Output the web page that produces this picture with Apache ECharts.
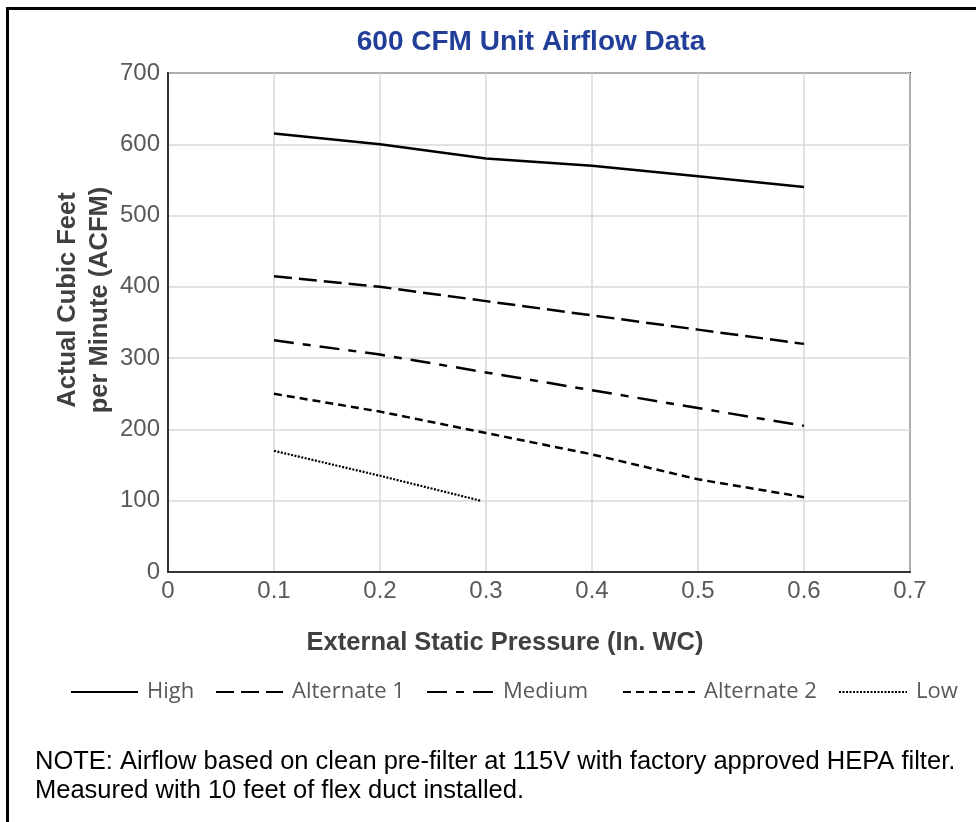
<!DOCTYPE html>
<html>
<head>
<meta charset="utf-8">
<script src="https://cdn.jsdelivr.net/npm/echarts@6/dist/echarts.min.js"></script>
<style>
  html, body { margin: 0; padding: 0; background: #fff; }
  #chart { width: 976px; height: 822px; }
</style>
</head>
<body>
<div id="chart"></div>
<script>
// ---- data ----
const pressures = [0.1, 0.2, 0.3, 0.4, 0.5, 0.6];
const lowPressures = [0.1, 0.2, 0.295];
const high = [615, 600, 580, 570, 555, 540];
const alternate1 = [415, 400, 380, 360, 340, 320];
const medium = [325, 305, 280, 255, 230, 205];
const alternate2 = [250, 225, 195, 165, 130, 105];
const low = [170, 135, 100];
const seriesNames = ['High', 'Alternate 1', 'Medium', 'Alternate 2', 'Low'];
const xTicks = [0, 0.1, 0.2, 0.3, 0.4, 0.5, 0.6, 0.7];
const yTicks = [0, 100, 200, 300, 400, 500, 600, 700];

const pairs = (xs, ys) => xs.map((x, i) => [x, ys[i]]);

const chart = echarts.init(document.getElementById('chart'));
const arial = '"Liberation Sans", Arial, sans-serif';
const legendFont = '"Open Sans", sans-serif';

const lineStyles = [
  { type: 'solid', width: 2.5 },
  { type: [18, 7], width: 2.5 },
  { type: [20, 9, 8, 9], width: 2.5 },
  { type: [8, 5], width: 2.5 },
  { type: [2, 1.5], width: 2.2 }
];
const dataSets = [
  pairs(pressures, high),
  pairs(pressures, alternate1),
  pairs(pressures, medium),
  pairs(pressures, alternate2),
  pairs(lowPressures, low)
];
const legendLefts = [70, 215, 426, 622, 838];
const legendWidths = [67, 67, 67, 72, 68];

chart.setOption({
  animation: false,
  backgroundColor: '#fff',
  legend: seriesNames.map((n, i) => ({
    data: [n],
    left: legendLefts[i], top: 681, padding: 0,
    itemWidth: legendWidths[i], itemHeight: 14,
    itemStyle: { opacity: 0 },
    textStyle: { fontFamily: legendFont, fontSize: 22, color: '#595959', padding: [0, 0, 0, 4] }
  })),
  grid: {
    left: 168, right: 66, top: 73, bottom: 250,
    show: true, borderColor: '#333', borderWidth: 2, backgroundColor: 'transparent'
  },
  xAxis: {
    type: 'value', min: 0, max: 0.7, interval: 0.1,
    axisLine: { show: true, lineStyle: { color: '#333', width: 2 } },
    axisTick: { show: false },
    splitLine: { show: true, lineStyle: { color: '#d9d9d9', width: 1.5 } },
    axisLabel: {
      margin: 7, color: '#595959', fontFamily: arial, fontSize: 24,
      formatter: v => String(Math.round(v * 10) / 10)
    }
  },
  yAxis: {
    type: 'value', min: 0, max: 700, interval: 100,
    axisLine: { show: true, lineStyle: { color: '#333', width: 2 } },
    axisTick: { show: false },
    splitLine: { show: true, lineStyle: { color: '#d9d9d9', width: 1.5 } },
    axisLabel: { margin: 8, color: '#595959', fontFamily: arial, fontSize: 24 }
  },
  graphic: [
    { type: 'rect', shape: { x: 6, y: 7, width: 1000, height: 3 }, style: { fill: '#000' } },
    { type: 'rect', shape: { x: 6, y: 7, width: 3, height: 830 }, style: { fill: '#000' } },
    {
      type: 'text', x: 531, y: 42,
      style: { text: '600 CFM Unit Airflow Data', fontFamily: arial, fontWeight: 'bold',
               fontSize: 28, fill: '#213f99', textAlign: 'center', textVerticalAlign: 'middle' }
    },
    {
      type: 'text', x: 68, y: 300, rotation: Math.PI / 2,
      style: { text: 'Actual Cubic Feet', fontFamily: arial, fontWeight: 'bold',
               fontSize: 25.5, fill: '#404040', textAlign: 'center', textVerticalAlign: 'middle' }
    },
    {
      type: 'text', x: 100, y: 300, rotation: Math.PI / 2,
      style: { text: 'per Minute (ACFM)', fontFamily: arial, fontWeight: 'bold',
               fontSize: 25.5, fill: '#404040', textAlign: 'center', textVerticalAlign: 'middle' }
    },
    {
      type: 'text', x: 505, y: 643,
      style: { text: 'External Static Pressure (In. WC)', fontFamily: arial, fontWeight: 'bold',
               fontSize: 25.5, fill: '#404040', textAlign: 'center', textVerticalAlign: 'middle' }
    },
    {
      type: 'text', x: 35, y: 747,
      style: { text: 'NOTE: Airflow based on clean pre-filter at 115V with factory approved HEPA filter.\nMeasured with 10 feet of flex duct installed.',
               fontFamily: arial, fontSize: 25.5, lineHeight: 29, fill: '#000', textAlign: 'left', textVerticalAlign: 'top' }
    }
  ],
  series: seriesNames.map((n, i) => ({
    name: n, type: 'line', data: dataSets[i],
    symbol: 'none', showSymbol: false,
    lineStyle: Object.assign({ color: '#000' }, lineStyles[i]),
    itemStyle: { color: '#000' }
  }))
});
</script>
</body>
</html>
